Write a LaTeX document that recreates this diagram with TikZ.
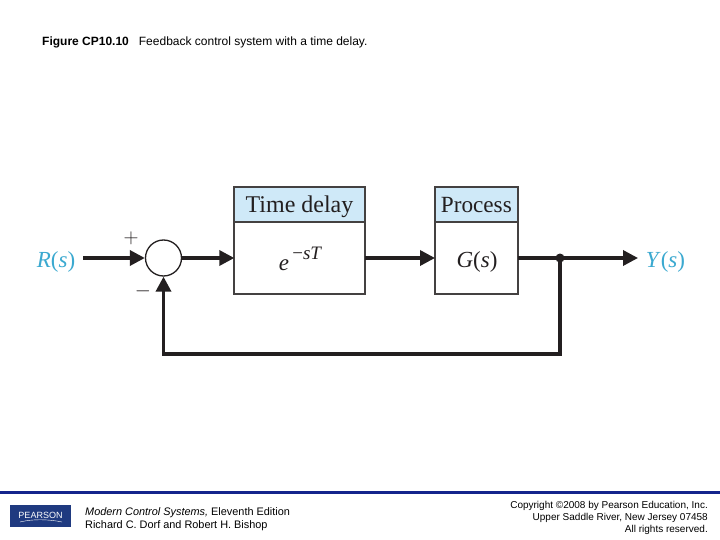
\documentclass[tikz,border=0pt]{standalone}
\usepackage{fontspec}
\setmainfont{Liberation Serif}
\newfontfamily\arialf{Liberation Sans}
\usetikzlibrary{arrows.meta,calc}
\definecolor{ink}{HTML}{231F20}
\definecolor{headblue}{HTML}{CFE9F8}
\definecolor{sigblue}{HTML}{3BA9D0}
\definecolor{rulenavy}{HTML}{14248C}
\definecolor{logonavy}{HTML}{1F3A80}
\tikzset{
  wire/.style={draw=ink,line width=3.4pt},
  sig/.style={wire,-{Triangle[length=15pt,width=15pt]}},
  blockbody/.style={draw=ink!85,line width=2pt,fill=white,minimum height=71.7pt,inner sep=0pt,outer sep=0pt,anchor=north west},
  blockhead/.style={draw=ink!85,line width=2pt,fill=headblue,minimum height=35.3pt,inner sep=0pt,outer sep=0pt,anchor=north west,font=\fontsize{24}{26}\selectfont,text=ink,text height=19pt,text depth=3pt},
  mathlabel/.style={font=\fontsize{23}{26}\selectfont,text=ink,inner sep=0pt,anchor=base},
  siglabel/.style={font=\fontsize{23}{26}\selectfont,text=sigblue,inner sep=0pt,anchor=base},
  small/.style={font=\arialf\fontsize{12}{14}\selectfont,text=black,inner sep=0pt}
}
\begin{document}
\begin{tikzpicture}[x=1pt,y=-1pt]
\useasboundingbox (0,0) rectangle (720,540);
\fill[white] (0,0) rectangle (720,540);

\node[small,anchor=west] (title) at (42,42.5) {\textbf{Figure CP10.10}\hspace{10pt}Feedback control system with a time delay.};

\node[blockbody,minimum width=130.4pt] (delaybody) at (234.3,222.3) {};
\node[blockhead,minimum width=130.4pt] (delayhead) at (234.3,187) {Time delay};
\node[blockbody,minimum width=82.7pt] (procbody) at (435,222.3) {};
\node[blockhead,minimum width=82.7pt,font=\fontsize{23.2}{26}\selectfont] (prochead) at (435,187) {Process};
\node[mathlabel] (delaytf) at (300.5,270) {\textit{e}\raisebox{11pt}{\fontsize{19}{20}\selectfont\,−\textit{sT}}};
\node[mathlabel] (proctf) at (477,267) {\textit{G}(\textit{s})};

\node[draw=ink,line width=1.3pt,circle,minimum size=36pt,inner sep=0pt] (sum) at (163.5,258) {};
\node[siglabel] (r) at (56,267) {\textit{R}(\textit{s})};
\node[siglabel] (y) at (665.5,267) {\textit{Y}(\textit{s})};
\node[font=\fontsize{20}{22}\selectfont,text=ink,inner sep=0pt] (plus) at (131,238) {$+$};
\node[font=\fontsize{20}{22}\selectfont,text=ink,inner sep=0pt] (minus) at (143,291.5) {$-$};
\coordinate (start) at (83,258);
\coordinate (jct) at (560,258);
\coordinate (out) at (638,258);
\coordinate (corner) at (560,354);
\coordinate (corner2) at (163.5,354);

\draw[sig] (start) -- (sum.west);
\draw[sig] (sum.east) -- (delaybody.west |- sum.east);
\draw[sig] (delaybody.east |- sum.east) -- (procbody.west |- sum.east);
\draw[wire] (procbody.east |- sum.east) -- (jct);
\draw[sig] (jct) -- (out);
\draw[sig,line join=miter] (jct) -- (corner) -- (corner2) -- (sum.south);
\fill[ink] (jct) circle (4.5pt);

% footer
\fill[rulenavy] (0,491) rectangle (720,494);
\node[fill=logonavy,minimum width=61pt,minimum height=22pt,inner sep=0pt,font=\arialf\fontsize{9}{10}\selectfont,text=white] (logo) at (40.5,516) {\raisebox{2pt}{PEARSON}};
\draw[white,line width=0.4pt] (20,522) .. controls (32,519) and (48,519) .. (62,522);
\node[small,anchor=north west,align=left,font=\arialf\fontsize{10.9}{13}\selectfont] (book) at (85,507.5) {\textit{Modern Control Systems,} Eleventh Edition\\Richard C. Dorf and Robert H. Bishop};
\node[small,anchor=north east,align=right,font=\arialf\fontsize{10}{12}\selectfont] (copy) at (708,501) {Copyright ©2008 by Pearson Education, Inc.\\Upper Saddle River, New Jersey 07458\\All rights reserved.};
\end{tikzpicture}
\end{document}
